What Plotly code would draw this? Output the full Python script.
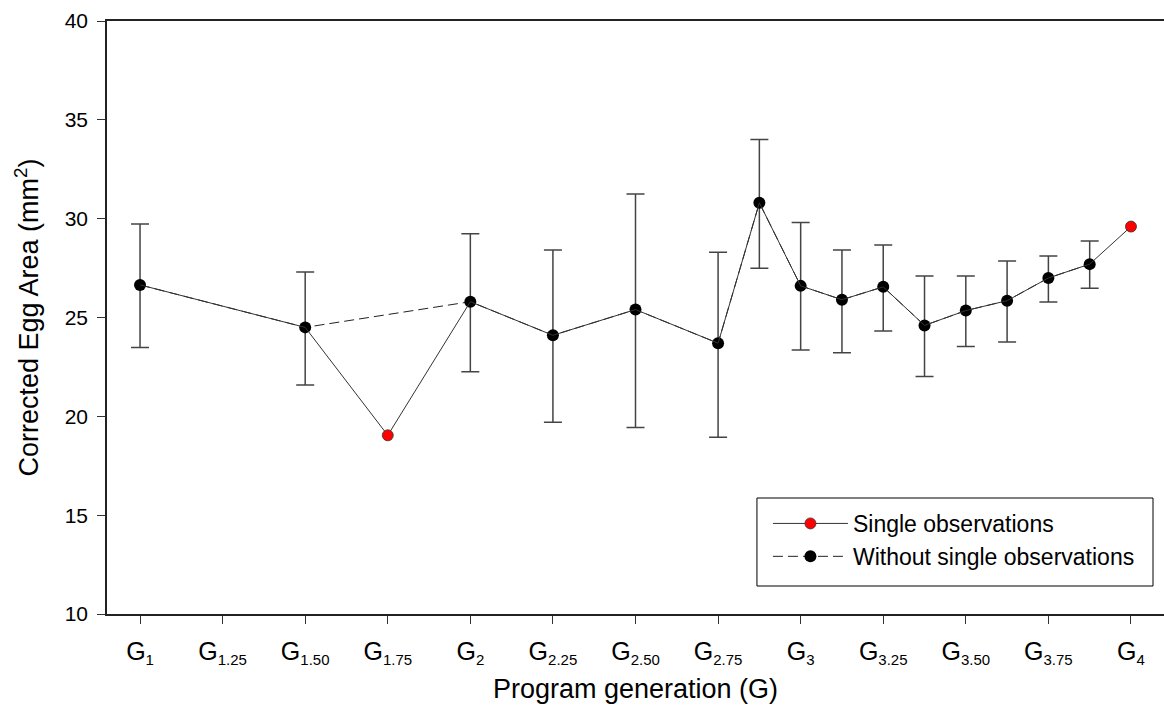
import plotly.graph_objects as go

# ---- data ----
wo_x = [1, 1.5, 2, 2.25, 2.5, 2.75, 2.875, 3, 3.125, 3.25, 3.375, 3.5, 3.625, 3.75, 3.875]
wo_y = [26.65, 24.5, 25.8, 24.1, 25.4, 23.7, 30.8, 26.6, 25.9, 26.55, 24.6, 25.35, 25.85, 27.0, 27.7]
wo_upper = [29.73, 27.3, 29.24, 28.42, 31.25, 28.3, 34.0, 29.8, 28.42, 28.67, 27.1, 27.1, 27.86, 28.11, 28.87]
wo_lower = [23.48, 21.59, 22.26, 19.7, 19.43, 18.94, 27.49, 23.36, 23.22, 24.32, 22.01, 23.53, 23.76, 25.79, 26.48]

single_x = [1.75, 4]
single_y = [19.04, 29.6]

tick_vals = [1, 1.25, 1.5, 1.75, 2, 2.25, 2.5, 2.75, 3, 3.25, 3.5, 3.75, 4]
tick_subs = ["1", "1.25", "1.50", "1.75", "2", "2.25", "2.50", "2.75", "3", "3.25", "3.50", "3.75", "4"]
tick_text = ["G<sub><span style='font-size:15px'>%s</span></sub>" % s for s in tick_subs]

FONT = "Arial, Liberation Sans, sans-serif"

err_plus = [u - y for u, y in zip(wo_upper, wo_y)]
err_minus = [y - l for y, l in zip(wo_y, wo_lower)]

# all points combined (solid connecting line)
all_pts = sorted(list(zip(wo_x, wo_y)) + list(zip(single_x, single_y)))
all_x = [p[0] for p in all_pts]
all_y = [p[1] for p in all_pts]

# single observations as isolated markers (gap between them)
sx, sy = [], []
for i, (a, b) in enumerate(zip(single_x, single_y)):
    if i > 0:
        sx.append(None)
        sy.append(None)
    sx.append(a)
    sy.append(b)

fig = go.Figure()

fig.add_trace(go.Scatter(
    x=wo_x, y=wo_y, mode="lines+markers",
    name="Without single observations", legendrank=2,
    line=dict(color="#222222", width=1, dash="10px,5px"),
    marker=dict(color="black", size=12),
    error_y=dict(type="data", symmetric=False, array=err_plus, arrayminus=err_minus,
                 color="#444444", thickness=1.5, width=9),
))

fig.add_trace(go.Scatter(
    x=all_x, y=all_y, mode="lines", showlegend=False,
    line=dict(color="#333333", width=1), hoverinfo="skip",
))

fig.add_trace(go.Scatter(
    x=sx, y=sy, mode="lines+markers", connectgaps=False,
    name="Single observations", legendrank=1,
    line=dict(color="#333333", width=1),
    marker=dict(color="#FF0000", size=11, line=dict(color="#333333", width=0.8)),
))

# legend frame
fig.add_shape(type="rect", xref="paper", yref="paper",
              x0=0.6149, x1=0.9896, y0=0.0472, y1=0.1956,
              line=dict(color="black", width=1), fillcolor="white", layer="below")

fig.update_layout(
    width=1164, height=717,
    margin=dict(l=107, r=0, t=21, b=103),
    paper_bgcolor="white", plot_bgcolor="white",
    font=dict(family=FONT, color="black"),
    legend=dict(
        x=0.6253, y=0.1889, xanchor="left", yanchor="top",
        bgcolor="rgba(0,0,0,0)", borderwidth=0,
        font=dict(size=23, family=FONT, color="black"),
        itemwidth=75, tracegroupgap=0,
    ),
    xaxis=dict(
        range=[0.9, 4.1], tickmode="array", tickvals=tick_vals, ticktext=tick_text,
        ticks="outside", ticklen=8, tickwidth=1, tickcolor="#333333",
        showline=True, linecolor="#222222", linewidth=1.5, mirror=True,
        showgrid=False, zeroline=False, ticklabelstandoff=6,
        tickfont=dict(size=25, family=FONT, color="black"),
        title=dict(text="Program generation (G)", font=dict(size=27, family=FONT, color="black"), standoff=12),
    ),
    yaxis=dict(
        range=[10, 40], tickmode="array", tickvals=[10, 15, 20, 25, 30, 35, 40],
        ticks="outside", ticklen=8, tickwidth=1, tickcolor="#333333",
        showline=True, linecolor="#222222", linewidth=1.5, mirror=False,
        showgrid=False, zeroline=False, ticklabelstandoff=5,
        tickfont=dict(size=21, family=FONT, color="black"),
        title=dict(text="Corrected Egg Area (mm<sup>2</sup>)", font=dict(size=27, family=FONT, color="black"), standoff=18),
    ),
)

fig.write_html("out.html")
